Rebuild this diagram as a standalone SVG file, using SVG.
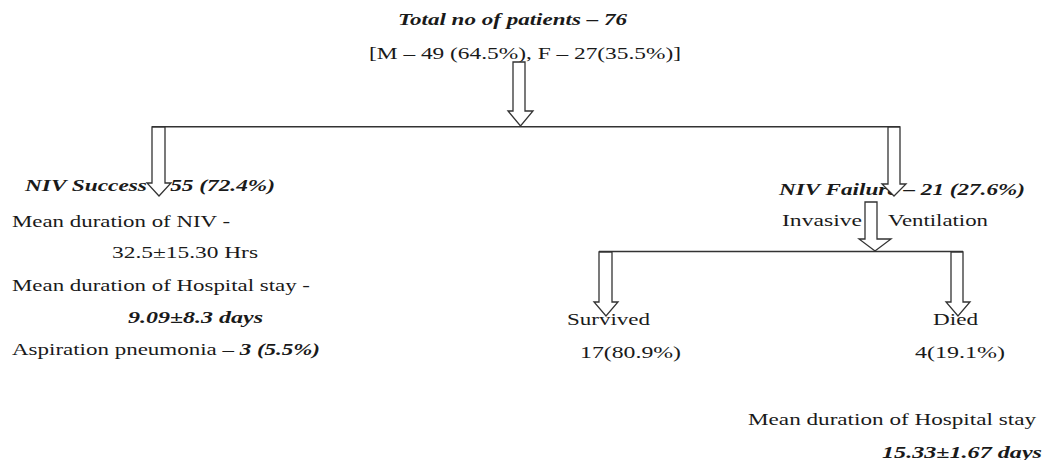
<svg xmlns="http://www.w3.org/2000/svg" width="1042" height="460" viewBox="0 0 1042 460">
<style>
text{font-family:"Liberation Serif","Times New Roman","DejaVu Serif",serif;font-size:16px;fill:#1a1a1a}
.bi{font-weight:bold;font-style:italic}
.ln{stroke:#333;stroke-width:1.5;fill:none}
.ar{fill:#fff;stroke:#333;stroke-width:1.3;stroke-linejoin:miter}
</style>
<rect width="1042" height="460" fill="#fff"/>
<g id="root">
<text class="bi" x="398" y="25" textLength="229" lengthAdjust="spacingAndGlyphs">Total no of patients – 76</text>
<text x="369" y="59" textLength="312" lengthAdjust="spacingAndGlyphs">[M – 49 (64.5%), F – 27(35.5%)]</text>
</g>
<g id="success">
<text class="bi" x="25" y="191" textLength="250" lengthAdjust="spacingAndGlyphs">NIV Success – 55 (72.4%)</text>
<text x="12" y="227" textLength="218" lengthAdjust="spacingAndGlyphs">Mean duration of NIV -</text>
<text x="112" y="258" textLength="146" lengthAdjust="spacingAndGlyphs">32.5±15.30 Hrs</text>
<text x="12" y="291" textLength="298" lengthAdjust="spacingAndGlyphs">Mean duration of Hospital stay -</text>
<text class="bi" x="128" y="323" textLength="135" lengthAdjust="spacingAndGlyphs">9.09±8.3 days</text>
<text x="12" y="355" textLength="308" lengthAdjust="spacingAndGlyphs">Aspiration pneumonia – <tspan class="bi">3 (5.5%)</tspan></text>
</g>
<g id="failure">
<text class="bi" x="779" y="195" textLength="246" lengthAdjust="spacingAndGlyphs">NIV Failure – 21 (27.6%)</text>
<text x="782" y="226" textLength="80" lengthAdjust="spacingAndGlyphs">Invasive</text>
<text x="888" y="226" textLength="100" lengthAdjust="spacingAndGlyphs">Ventilation</text>
</g>
<g id="survived">
<text x="567" y="325" textLength="83" lengthAdjust="spacingAndGlyphs">Survived</text>
<text x="580" y="358" textLength="101" lengthAdjust="spacingAndGlyphs">17(80.9%)</text>
</g>
<g id="died">
<text x="933" y="325" textLength="45" lengthAdjust="spacingAndGlyphs">Died</text>
<text x="915" y="358" textLength="90" lengthAdjust="spacingAndGlyphs">4(19.1%)</text>
<text x="748" y="425" textLength="288" lengthAdjust="spacingAndGlyphs">Mean duration of Hospital stay</text>
<text class="bi" x="882" y="458" textLength="160" lengthAdjust="spacingAndGlyphs">15.33±1.67 days</text>
</g>
<g id="connectors">
<line class="ln" x1="152" y1="126.7" x2="900" y2="126.7"/>
<line class="ln" x1="599" y1="251.5" x2="963" y2="251.5"/>
<polygon class="ar" points="513,62 525,62 525,111 533,111 520.5,126 508,111 513,111"/>
<polygon class="ar" points="152,127 165,127 165,183 171,183 159,196 147,183 152,183"/>
<polygon class="ar" points="888,127 900,127 900,184 906,184 894,196 882,184 888,184"/>
<polygon class="ar" points="865,202 877,202 877,239 891,239 875,251 859,239 865,239"/>
<polygon class="ar" points="599,252 612,252 612,302 618,302 606,316 594,302 599,302"/>
<polygon class="ar" points="951,252 963,252 963,302 970,302 958,316 946,302 951,302"/>
</g>
</svg>
